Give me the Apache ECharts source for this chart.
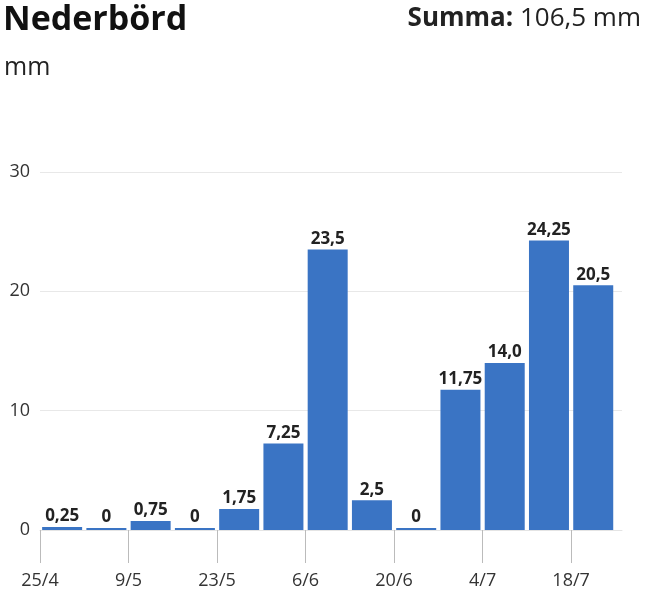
<!DOCTYPE html>
<html>
<head>
<meta charset="utf-8">
<script src="https://cdn.jsdelivr.net/npm/echarts@6/dist/echarts.min.js"></script>
<style>
    html, body {margin:0;padding:0;background:#ffffff;}
    #chart {width:651px;height:591px;}
</style>
</head>
<body>
<div id="chart"></div>
<script>
    // veckor (startdatum) och nederbörd i mm
    var weeks = ['25/4', '2/5', '9/5', '16/5', '23/5', '30/5', '6/6', '13/6', '20/6', '27/6', '4/7', '11/7', '18/7'];
    var rain = [0.25, 0, 0.75, 0, 1.75, 7.25, 23.5, 2.5, 0, 11.75, 14.0, 24.25, 20.5];
    var yTicks = [0, 10, 20, 30];

    var font = '"Open Sans", Lato, sans-serif';

    function fmt(v) {
        if (v === 0) return '0';
        var s = String(v);
        if (s.indexOf('.') < 0) s = s + '.0';
        return s.replace('.', ',');
    }

    var total = 0;
    for (var i = 0; i < rain.length; i++) total += rain[i];

    // varannan vecka får en etikett
    var labelPos = [];
    for (var i = 0; i < weeks.length; i += 2) labelPos.push(i);

    var barData = rain.map(function (v, i) { return [i + 0.5, v]; });

    var chart = echarts.init(document.getElementById('chart'));

    var option = {
        animation: false,
        textStyle: {fontFamily: font},
        title: [
            {
                text: 'Nederbörd',
                left: -2, top: -2,
                textStyle: {fontFamily: font, fontSize: 34, fontWeight: 'bold', color: '#111'}
            },
            {
                text: 'mm',
                left: -1, top: 50,
                textStyle: {fontFamily: font, fontSize: 25, fontWeight: 'normal', color: '#222'}
            },
            {
                text: '{b|Summa: }{n|' + fmt(total) + ' mm}',
                right: 5, top: 1,
                textStyle: {
                    rich: {
                        b: {fontFamily: font, fontSize: 26, fontWeight: 'bold', color: '#222'},
                        n: {fontFamily: font, fontSize: 26, fontWeight: 'normal', color: '#222'}
                    }
                }
            }
        ],
        grid: {left: 40, right: 29, top: 172, bottom: 61},
        xAxis: {
            type: 'value',
            min: 0,
            max: 13.15,
            splitLine: {show: false},
            axisLine: {show: true, lineStyle: {color: '#e4e4e4'}},
            axisTick: {
                show: true,
                length: 33,
                customValues: labelPos,
                lineStyle: {color: '#bbbbbb'}
            },
            axisLabel: {
                customValues: labelPos,
                margin: 42,
                fontSize: 18,
                color: '#333',
                formatter: function (v) { return weeks[v] || ''; }
            }
        },
        yAxis: {
            type: 'value',
            min: yTicks[0],
            max: yTicks[yTicks.length - 1],
            interval: 10,
            axisLine: {show: false},
            axisTick: {show: false},
            splitLine: {lineStyle: {color: '#e8e8e8'}},
            axisLabel: {fontSize: 18, color: '#333', margin: 10}
        },
        series: [
            {
                type: 'bar',
                data: barData,
                barWidth: 40,
                barMinHeight: 2,
                itemStyle: {color: '#3a74c4'},
                label: {
                    show: true,
                    position: 'top',
                    distance: 2,
                    fontSize: 17,
                    fontWeight: 'bold',
                    color: '#222',
                    formatter: function (p) { return fmt(p.value[1]); }
                }
            }
        ]
    };

    chart.setOption(option);
</script>
</body>
</html>
